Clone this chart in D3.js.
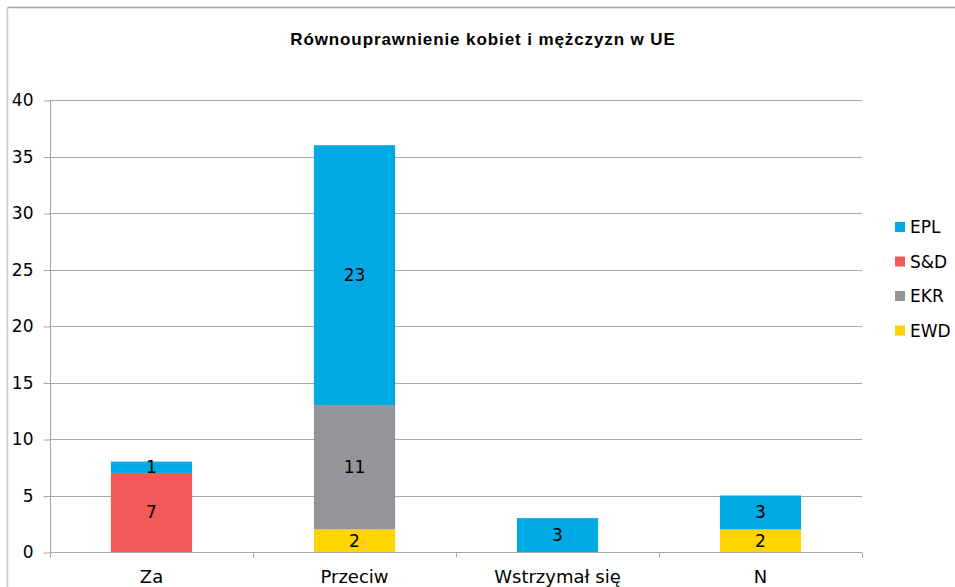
<!DOCTYPE html>
<html>
<head>
<meta charset="utf-8">
<script src="https://cdn.jsdelivr.net/npm/d3@7"></script>
<style>
  body { margin: 0; background: #fff; }
  svg { display: block; }
</style>
</head>
<body>
<svg width="955" height="587"></svg>
<script>
// Data
var categories = ["Za", "Przeciw", "Wstrzymał się", "N"];
var seriesNames = ["EWD", "EKR", "S&D", "EPL"]; // bottom to top
var EWD = [0, 2, 0, 2];
var EKR = [0, 11, 0, 0];
var SD = [7, 0, 0, 0];
var EPL = [1, 23, 3, 3];
var yTicks = [0, 5, 10, 15, 20, 25, 30, 35, 40];
var legendOrder = ["EPL", "S&D", "EKR", "EWD"];

var colors = {
  "EPL": "#00a9e4",
  "S&D": "#f15a56",
  "EKR": "#949598",
  "EWD": "#ffd400"
};

var svg = d3.select("svg"),
  width = +svg.attr("width"),
  height = +svg.attr("height");

var margin = { left: 50, right: 93, top: 100, bottom: 35 };

// build rows for the stack
var rows = categories.map(function (c, i) {
  return { cat: c, "EWD": EWD[i], "EKR": EKR[i], "S&D": SD[i], "EPL": EPL[i] };
});
var stacked = d3.stack().keys(seriesNames)(rows);

var x = d3
  .scaleBand()
  .domain(categories)
  .range([margin.left, width - margin.right])
  .paddingInner(0.6)
  .paddingOuter(0.3);

var y = d3
  .scaleLinear()
  .domain([0, 40])
  .range([height - margin.bottom, margin.top]);

// outer chart border (only top/left visible)
svg.append("line")
  .attr("x1", 7.5).attr("x2", width).attr("y1", 7.5).attr("y2", 7.5)
  .attr("stroke", "#a6a6a6").attr("stroke-width", 1.5);
svg.append("line")
  .attr("x1", 7.5).attr("x2", 7.5).attr("y1", 7.5).attr("y2", height)
  .attr("stroke", "#c8c8c8").attr("stroke-width", 1.5);

// title
svg.append("text")
  .attr("x", 483)
  .attr("y", 45)
  .attr("text-anchor", "middle")
  .style("font-family", "'Liberation Sans', Arial, sans-serif")
  .style("font-weight", "bold")
  .style("font-size", "17px")
  .style("letter-spacing", "0.9px")
  .text("Równouprawnienie kobiet i mężczyzn w UE");

// gridlines
svg.append("g")
  .selectAll("line")
  .data(yTicks.slice(1))
  .enter()
  .append("line")
  .attr("x1", margin.left)
  .attr("x2", width - margin.right)
  .attr("y1", function (d) { return Math.round(y(d)) + 0.5; })
  .attr("y2", function (d) { return Math.round(y(d)) + 0.5; })
  .attr("stroke", "#a6a6a6")
  .attr("stroke-width", 1);

// y axis
var yAxis = svg.append("g")
  .attr("transform", "translate(" + (margin.left + 0.5) + ",0.5)")
  .call(d3.axisLeft(y).tickValues(yTicks).tickSize(7).tickPadding(10));
yAxis.select(".domain").attr("d", "M0," + (y(40)) + "V" + (y(0) + 5)).attr("stroke", "#a6a6a6");
yAxis.selectAll(".tick line").attr("stroke", "#a6a6a6");
yAxis.selectAll(".tick text")
  .style("font-family", "'DejaVu Sans', Verdana, sans-serif")
  .style("font-size", "17px")
  .attr("fill", "#000");

// x axis
var xAxis = svg.append("g")
  .attr("transform", "translate(0," + (Math.round(y(0)) + 0.5) + ")");
xAxis.append("line")
  .attr("x1", margin.left).attr("x2", width - margin.right)
  .attr("stroke", "#a6a6a6");
var bounds = categories.map(function (c) { return x(c) - (x.step() - x.bandwidth()) / 2; });
bounds.push(width - margin.right);
xAxis.selectAll(".xt")
  .data(bounds)
  .enter()
  .append("line")
  .attr("x1", function (d) { return Math.round(d) + 0.5; })
  .attr("x2", function (d) { return Math.round(d) + 0.5; })
  .attr("y1", 0).attr("y2", 5)
  .attr("stroke", "#a6a6a6");
xAxis.selectAll(".xl")
  .data(categories)
  .enter()
  .append("text")
  .attr("x", function (d) { return x(d) + x.bandwidth() / 2; })
  .attr("y", 30)
  .attr("text-anchor", "middle")
  .style("font-family", "'DejaVu Sans', Verdana, sans-serif")
  .style("font-size", "18px")
  .text(function (d) { return d; });

// bars
var layers = svg.append("g")
  .selectAll("g")
  .data(stacked)
  .enter()
  .append("g")
  .attr("fill", function (d) { return colors[d.key]; });

layers.selectAll("rect")
  .data(function (d) { return d; })
  .enter()
  .append("rect")
  .filter(function (d) { return d[1] - d[0] > 0; })
  .attr("x", function (d) { return x(d.data.cat); })
  .attr("width", x.bandwidth())
  .attr("y", function (d) { return y(d[1]); })
  .attr("height", function (d) { return y(d[0]) - y(d[1]); });

// value labels
layers.selectAll("text")
  .data(function (d) { return d; })
  .enter()
  .append("text")
  .filter(function (d) { return d[1] - d[0] > 0; })
  .attr("x", function (d) { return x(d.data.cat) + x.bandwidth() / 2; })
  .attr("y", function (d) { return (y(d[0]) + y(d[1])) / 2 + 6; })
  .attr("text-anchor", "middle")
  .attr("fill", "#000")
  .style("font-family", "'DejaVu Sans', Verdana, sans-serif")
  .style("font-size", "17px")
  .text(function (d) { return d[1] - d[0]; });

// legend
var legend = svg.append("g")
  .selectAll("g")
  .data(legendOrder)
  .enter()
  .append("g")
  .attr("transform", function (d, i) { return "translate(895," + (227 + i * 34.5) + ")"; });
legend.append("rect")
  .attr("x", 0).attr("y", -5)
  .attr("width", 10).attr("height", 10)
  .attr("fill", function (d) { return colors[d]; });
legend.append("text")
  .attr("x", 15)
  .attr("y", 6)
  .style("font-family", "'DejaVu Sans', Verdana, sans-serif")
  .style("font-size", "17px")
  .text(function (d) { return d; });
</script>
</body>
</html>
